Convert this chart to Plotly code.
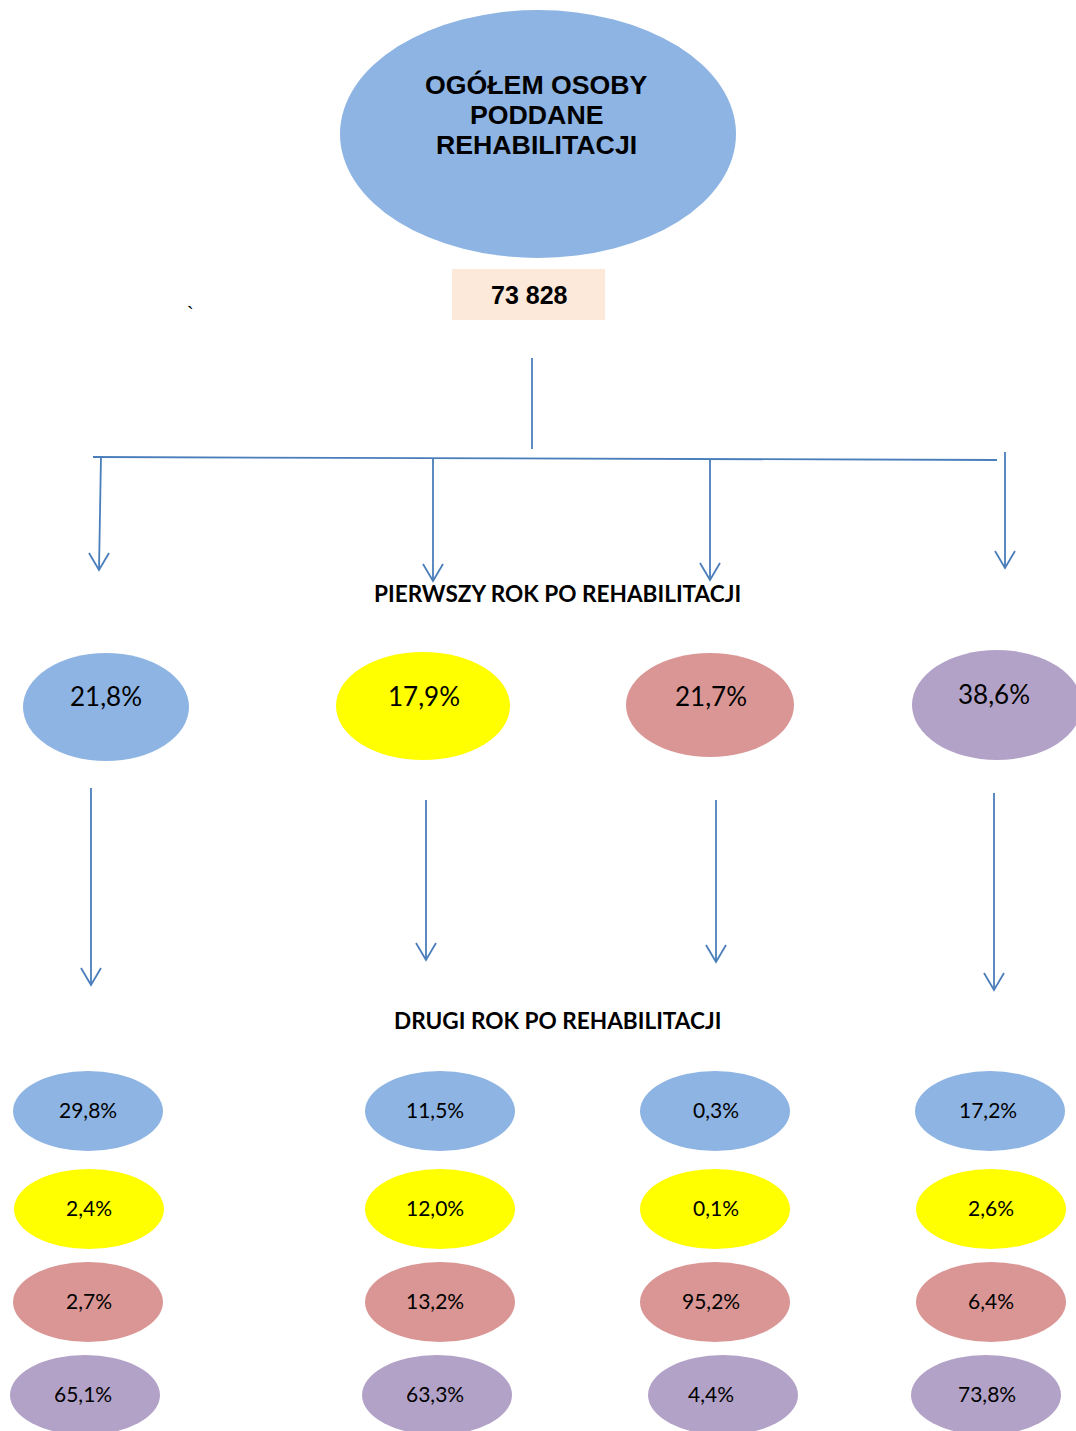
import plotly.graph_objects as go

# ---------------- data ----------------
total_title = ["OGÓŁEM OSOBY", "PODDANE", "REHABILITACJI"]
total_value = "73 828"
first_year_title = "PIERWSZY ROK PO REHABILITACJI"
second_year_title = "DRUGI ROK PO REHABILITACJI"
first_year = [21.8, 17.9, 21.7, 38.6]
second_blue = [29.8, 11.5, 0.3, 17.2]
second_yellow = [2.4, 12.0, 0.1, 2.6]
second_pink = [2.7, 13.2, 95.2, 6.4]
second_purple = [65.1, 63.3, 4.4, 73.8]

# ---------------- layout / style ----------------
W, H = 1076, 1431
BLUE, YELLOW, PINK, PURPLE = "#8EB4E3", "#FFFF00", "#D99694", "#B3A2C7"
LINE = "#4A7EBB"
colors = [BLUE, YELLOW, PINK, PURPLE]

def fmt(v):
    return f"{v:.1f}".replace(".", ",") + "%"

shapes = []
ann = []

def ellipse(cx, cy, rx, ry, color):
    shapes.append(dict(type="circle", xref="x", yref="y", x0=cx - rx, x1=cx + rx,
                       y0=cy - ry, y1=cy + ry, fillcolor=color, line=dict(width=0), layer="below"))

def text(x, y, s, size, bold=False, family="Lato"):
    ann.append(dict(x=x, y=y, xref="x", yref="y", text=f"<b>{s}</b>" if bold else s,
                    showarrow=False, font=dict(family=family, size=size, color="black"),
                    xanchor="center", yanchor="middle"))

def line(x0, y0, x1, y1):
    shapes.append(dict(type="line", xref="x", yref="y", x0=x0, y0=y0, x1=x1, y1=y1,
                       line=dict(color=LINE, width=1.8)))

def arrow(x0, y0, x1, y1):
    line(x0, y0, x1, y1)
    shapes.append(dict(type="path", xref="x", yref="y",
                       path=f"M {x1-10},{y1-17} L {x1},{y1} L {x1+10},{y1-17}",
                       line=dict(color=LINE, width=1.8)))

# top ellipse
ellipse(538, 134, 198, 124, BLUE)
for i, s in enumerate(total_title):
    text(536, 85 + 30 * i, s, 26.7, bold=True, family="Liberation Sans")

# total box
shapes.append(dict(type="rect", xref="x", yref="y", x0=452, x1=605, y0=269, y1=320,
                   fillcolor="#FDE9D9", line=dict(width=0), layer="below"))
text(529, 295, total_value, 25, bold=True, family="Liberation Sans")
text(190, 314, "`", 20, family="Liberation Sans")

# connectors
line(532, 358, 532, 449)
line(93, 457, 997, 460)
arrows1 = [(101, 456, 99, 570), (433, 458, 433, 581), (710, 459, 710, 580), (1005, 452, 1005, 568)]
for a in arrows1:
    arrow(*a)

text(557, 593, first_year_title, 22.6, bold=True)

# first year ellipses
row1_centers = [(106, 707, 83, 54), (423, 706, 87, 54), (710, 705, 84, 52), (997, 705, 85, 55)]
row1_text = [(106, 696), (424, 696), (711, 696), (994, 694)]
for (cx, cy, rx, ry), (tx, ty), v, c in zip(row1_centers, row1_text, first_year, colors):
    ellipse(cx, cy, rx, ry, c)
    text(tx, ty, fmt(v), 26)

arrows2 = [(91, 788, 91, 985), (426, 800, 426, 960), (716, 800, 716, 962), (994, 793, 994, 990)]
for a in arrows2:
    arrow(*a)

text(557, 1020, second_year_title, 22.6, bold=True)

# second year ellipses
col_x = [88, 440, 715, 991]
row_y = [1111, 1209, 1302, 1395]
text_dx = [[0, 1, 1, -5], [-5, -5, -5, -5], [1, 1, -4, -4], [-3, 0, 0, -4]]
ell_dx = [[0, 1, 0, -3], [0, 0, 0, -3], [0, 0, 0, 8], [-1, 0, 0, -5]]
series = [second_blue, second_yellow, second_pink, second_purple]
for ci in range(4):
    for ri in range(4):
        cx = col_x[ci] + ell_dx[ci][ri]
        cy = row_y[ri]
        ellipse(cx, cy, 75, 40, colors[ri])
        text(col_x[ci] + text_dx[ci][ri], cy - 2, fmt(series[ri][ci]), 21)

fig = go.Figure()
fig.add_trace(go.Scatter(x=[0, W], y=[0, H], mode="markers", marker=dict(opacity=0),
                         hoverinfo="skip", showlegend=False))
fig.update_layout(width=W, height=H, margin=dict(l=0, r=0, t=0, b=0),
                  paper_bgcolor="white", plot_bgcolor="white",
                  xaxis=dict(range=[0, W], visible=False, fixedrange=True),
                  yaxis=dict(range=[H, 0], visible=False, fixedrange=True),
                  shapes=shapes, annotations=ann, showlegend=False)
fig.write_html("out.html", config={"displayModeBar": False},
               post_script="document.body.style.margin='0';document.body.style.overflow='hidden';")
